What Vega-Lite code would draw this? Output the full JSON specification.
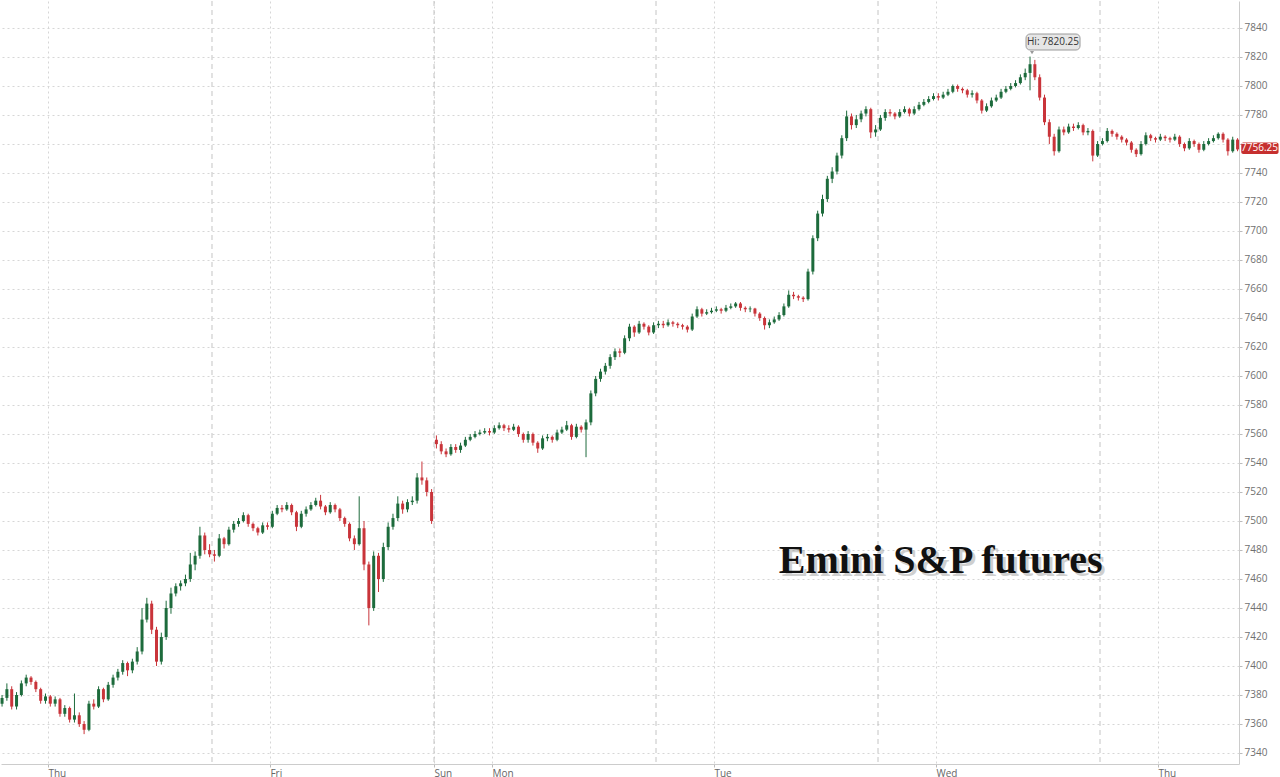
{
"$schema":"https://vega.github.io/schema/vega-lite/v6.json",
"width":1238,"height":763,"padding":0,
"background":"#ffffff",
"config":{"view":{"stroke":null},"axis":{"labelOverlap":false}},
"datasets":{
"sessions":[{"t":23},{"t":46},{"t":69},{"t":92},{"t":115}],
"bars":[
{"t":1.25,"o":7374,"hi":7380,"lo":7372,"c":7378},
{"t":1.75,"o":7378,"hi":7388,"lo":7376,"c":7384},
{"t":2.25,"o":7384,"hi":7386,"lo":7370,"c":7372},
{"t":2.75,"o":7372,"hi":7382,"lo":7370,"c":7380},
{"t":3.25,"o":7380,"hi":7390,"lo":7379,"c":7388},
{"t":3.75,"o":7388,"hi":7394,"lo":7386,"c":7392},
{"t":4.25,"o":7392,"hi":7393,"lo":7387,"c":7389},
{"t":4.75,"o":7389,"hi":7390,"lo":7382,"c":7384},
{"t":5.25,"o":7384,"hi":7385,"lo":7374,"c":7376},
{"t":5.75,"o":7376,"hi":7381,"lo":7374,"c":7379},
{"t":6.25,"o":7379,"hi":7380,"lo":7372,"c":7374},
{"t":6.75,"o":7374,"hi":7379,"lo":7372,"c":7377},
{"t":7.25,"o":7377,"hi":7378,"lo":7365,"c":7367},
{"t":7.75,"o":7367,"hi":7373,"lo":7365,"c":7371},
{"t":8.25,"o":7371,"hi":7372,"lo":7361,"c":7363},
{"t":8.75,"o":7363,"hi":7381,"lo":7361,"c":7366},
{"t":9.25,"o":7366,"hi":7368,"lo":7358,"c":7360},
{"t":9.75,"o":7360,"hi":7362,"lo":7353,"c":7356},
{"t":10.25,"o":7356,"hi":7376,"lo":7355,"c":7374},
{"t":10.75,"o":7374,"hi":7377,"lo":7370,"c":7372},
{"t":11.25,"o":7372,"hi":7386,"lo":7371,"c":7384},
{"t":11.75,"o":7384,"hi":7385,"lo":7375,"c":7377},
{"t":12.25,"o":7377,"hi":7389,"lo":7376,"c":7387},
{"t":12.75,"o":7387,"hi":7394,"lo":7385,"c":7392},
{"t":13.25,"o":7392,"hi":7398,"lo":7390,"c":7396},
{"t":13.75,"o":7396,"hi":7404,"lo":7394,"c":7402},
{"t":14.25,"o":7402,"hi":7403,"lo":7393,"c":7397},
{"t":14.75,"o":7397,"hi":7405,"lo":7395,"c":7403},
{"t":15.25,"o":7403,"hi":7413,"lo":7401,"c":7410},
{"t":15.75,"o":7410,"hi":7440,"lo":7408,"c":7432},
{"t":16.25,"o":7432,"hi":7447,"lo":7430,"c":7443},
{"t":16.75,"o":7443,"hi":7445,"lo":7422,"c":7425},
{"t":17.25,"o":7425,"hi":7427,"lo":7400,"c":7403},
{"t":17.75,"o":7403,"hi":7423,"lo":7401,"c":7420},
{"t":18.25,"o":7420,"hi":7445,"lo":7418,"c":7440},
{"t":18.75,"o":7440,"hi":7454,"lo":7436,"c":7450},
{"t":19.25,"o":7450,"hi":7457,"lo":7448,"c":7455},
{"t":19.75,"o":7455,"hi":7459,"lo":7452,"c":7457},
{"t":20.25,"o":7457,"hi":7463,"lo":7455,"c":7460},
{"t":20.75,"o":7460,"hi":7478,"lo":7458,"c":7470},
{"t":21.25,"o":7470,"hi":7479,"lo":7466,"c":7476},
{"t":21.75,"o":7476,"hi":7496,"lo":7474,"c":7490},
{"t":22.25,"o":7490,"hi":7492,"lo":7477,"c":7480},
{"t":22.75,"o":7480,"hi":7484,"lo":7475,"c":7477},
{"t":23.25,"o":7477,"hi":7480,"lo":7472,"c":7476},
{"t":23.75,"o":7476,"hi":7491,"lo":7475,"c":7488},
{"t":24.25,"o":7488,"hi":7489,"lo":7481,"c":7484},
{"t":24.75,"o":7484,"hi":7496,"lo":7483,"c":7494},
{"t":25.25,"o":7494,"hi":7500,"lo":7492,"c":7498},
{"t":25.75,"o":7498,"hi":7502,"lo":7496,"c":7500},
{"t":26.25,"o":7500,"hi":7506,"lo":7499,"c":7504},
{"t":26.75,"o":7504,"hi":7505,"lo":7496,"c":7498},
{"t":27.25,"o":7498,"hi":7499,"lo":7493,"c":7495},
{"t":27.75,"o":7495,"hi":7496,"lo":7490,"c":7492},
{"t":28.25,"o":7492,"hi":7499,"lo":7491,"c":7497},
{"t":28.75,"o":7497,"hi":7499,"lo":7494,"c":7496},
{"t":29.25,"o":7496,"hi":7507,"lo":7495,"c":7505},
{"t":29.75,"o":7505,"hi":7511,"lo":7504,"c":7509},
{"t":30.25,"o":7509,"hi":7511,"lo":7506,"c":7508},
{"t":30.75,"o":7508,"hi":7513,"lo":7507,"c":7511},
{"t":31.25,"o":7511,"hi":7512,"lo":7504,"c":7506},
{"t":31.75,"o":7506,"hi":7507,"lo":7493,"c":7496},
{"t":32.25,"o":7496,"hi":7507,"lo":7495,"c":7505},
{"t":32.75,"o":7505,"hi":7510,"lo":7503,"c":7508},
{"t":33.25,"o":7508,"hi":7513,"lo":7507,"c":7511},
{"t":33.75,"o":7511,"hi":7516,"lo":7510,"c":7514},
{"t":34.25,"o":7514,"hi":7518,"lo":7508,"c":7510},
{"t":34.75,"o":7510,"hi":7511,"lo":7504,"c":7506},
{"t":35.25,"o":7506,"hi":7513,"lo":7505,"c":7511},
{"t":35.75,"o":7511,"hi":7512,"lo":7506,"c":7508},
{"t":36.25,"o":7508,"hi":7509,"lo":7500,"c":7502},
{"t":36.75,"o":7502,"hi":7503,"lo":7496,"c":7498},
{"t":37.25,"o":7498,"hi":7499,"lo":7486,"c":7488},
{"t":37.75,"o":7488,"hi":7490,"lo":7480,"c":7484},
{"t":38.25,"o":7484,"hi":7517,"lo":7483,"c":7495},
{"t":38.75,"o":7495,"hi":7500,"lo":7466,"c":7470},
{"t":39.25,"o":7470,"hi":7472,"lo":7428,"c":7440},
{"t":39.75,"o":7440,"hi":7479,"lo":7438,"c":7476},
{"t":40.25,"o":7476,"hi":7478,"lo":7451,"c":7460},
{"t":40.75,"o":7460,"hi":7485,"lo":7458,"c":7482},
{"t":41.25,"o":7482,"hi":7499,"lo":7480,"c":7496},
{"t":41.75,"o":7496,"hi":7505,"lo":7494,"c":7502},
{"t":42.25,"o":7502,"hi":7517,"lo":7500,"c":7512},
{"t":42.75,"o":7512,"hi":7514,"lo":7505,"c":7508},
{"t":43.25,"o":7508,"hi":7515,"lo":7506,"c":7513},
{"t":43.75,"o":7513,"hi":7517,"lo":7511,"c":7514},
{"t":44.25,"o":7514,"hi":7533,"lo":7512,"c":7530},
{"t":44.75,"o":7530,"hi":7541,"lo":7525,"c":7528},
{"t":45.25,"o":7528,"hi":7530,"lo":7517,"c":7520},
{"t":45.75,"o":7520,"hi":7522,"lo":7498,"c":7500},
{"t":46.25,"o":7556,"hi":7559,"lo":7550,"c":7553},
{"t":46.75,"o":7553,"hi":7555,"lo":7546,"c":7548},
{"t":47.25,"o":7548,"hi":7550,"lo":7544,"c":7546},
{"t":47.75,"o":7546,"hi":7553,"lo":7545,"c":7551},
{"t":48.25,"o":7551,"hi":7553,"lo":7547,"c":7549},
{"t":48.75,"o":7549,"hi":7554,"lo":7547,"c":7552},
{"t":49.25,"o":7552,"hi":7558,"lo":7551,"c":7556},
{"t":49.75,"o":7556,"hi":7560,"lo":7555,"c":7558},
{"t":50.25,"o":7558,"hi":7562,"lo":7557,"c":7560},
{"t":50.75,"o":7560,"hi":7563,"lo":7559,"c":7561},
{"t":51.25,"o":7561,"hi":7564,"lo":7560,"c":7562},
{"t":51.75,"o":7562,"hi":7564,"lo":7559,"c":7561},
{"t":52.25,"o":7561,"hi":7566,"lo":7560,"c":7564},
{"t":52.75,"o":7564,"hi":7568,"lo":7563,"c":7566},
{"t":53.25,"o":7566,"hi":7567,"lo":7562,"c":7564},
{"t":53.75,"o":7564,"hi":7566,"lo":7561,"c":7563},
{"t":54.25,"o":7563,"hi":7567,"lo":7562,"c":7565},
{"t":54.75,"o":7565,"hi":7566,"lo":7558,"c":7560},
{"t":55.25,"o":7560,"hi":7561,"lo":7554,"c":7556},
{"t":55.75,"o":7556,"hi":7562,"lo":7554,"c":7560},
{"t":56.25,"o":7560,"hi":7561,"lo":7552,"c":7554},
{"t":56.75,"o":7554,"hi":7555,"lo":7547,"c":7550},
{"t":57.25,"o":7550,"hi":7559,"lo":7549,"c":7557},
{"t":57.75,"o":7557,"hi":7560,"lo":7555,"c":7558},
{"t":58.25,"o":7558,"hi":7559,"lo":7554,"c":7556},
{"t":58.75,"o":7556,"hi":7563,"lo":7555,"c":7561},
{"t":59.25,"o":7561,"hi":7565,"lo":7560,"c":7563},
{"t":59.75,"o":7563,"hi":7569,"lo":7562,"c":7566},
{"t":60.25,"o":7566,"hi":7567,"lo":7556,"c":7558},
{"t":60.75,"o":7558,"hi":7567,"lo":7557,"c":7565},
{"t":61.25,"o":7565,"hi":7566,"lo":7561,"c":7563},
{"t":61.75,"o":7563,"hi":7570,"lo":7544,"c":7568},
{"t":62.25,"o":7568,"hi":7590,"lo":7566,"c":7588},
{"t":62.75,"o":7588,"hi":7600,"lo":7586,"c":7598},
{"t":63.25,"o":7598,"hi":7605,"lo":7596,"c":7603},
{"t":63.75,"o":7603,"hi":7609,"lo":7601,"c":7607},
{"t":64.25,"o":7607,"hi":7615,"lo":7605,"c":7613},
{"t":64.75,"o":7613,"hi":7619,"lo":7611,"c":7617},
{"t":65.25,"o":7617,"hi":7619,"lo":7613,"c":7616},
{"t":65.75,"o":7616,"hi":7628,"lo":7615,"c":7626},
{"t":66.25,"o":7626,"hi":7636,"lo":7624,"c":7634},
{"t":66.75,"o":7634,"hi":7635,"lo":7627,"c":7630},
{"t":67.25,"o":7630,"hi":7638,"lo":7629,"c":7636},
{"t":67.75,"o":7636,"hi":7637,"lo":7632,"c":7634},
{"t":68.25,"o":7634,"hi":7635,"lo":7628,"c":7630},
{"t":68.75,"o":7630,"hi":7637,"lo":7629,"c":7635},
{"t":69.25,"o":7635,"hi":7638,"lo":7633,"c":7636},
{"t":69.75,"o":7636,"hi":7638,"lo":7633,"c":7635},
{"t":70.25,"o":7635,"hi":7639,"lo":7634,"c":7637},
{"t":70.75,"o":7637,"hi":7638,"lo":7634,"c":7636},
{"t":71.25,"o":7636,"hi":7637,"lo":7633,"c":7635},
{"t":71.75,"o":7635,"hi":7636,"lo":7632,"c":7634},
{"t":72.25,"o":7634,"hi":7635,"lo":7630,"c":7632},
{"t":72.75,"o":7632,"hi":7643,"lo":7631,"c":7641},
{"t":73.25,"o":7641,"hi":7648,"lo":7640,"c":7646},
{"t":73.75,"o":7646,"hi":7647,"lo":7641,"c":7643},
{"t":74.25,"o":7643,"hi":7646,"lo":7642,"c":7644},
{"t":74.75,"o":7644,"hi":7647,"lo":7643,"c":7645},
{"t":75.25,"o":7645,"hi":7648,"lo":7644,"c":7646},
{"t":75.75,"o":7646,"hi":7647,"lo":7643,"c":7645},
{"t":76.25,"o":7645,"hi":7649,"lo":7644,"c":7647},
{"t":76.75,"o":7647,"hi":7650,"lo":7646,"c":7648},
{"t":77.25,"o":7648,"hi":7651,"lo":7647,"c":7650},
{"t":77.75,"o":7650,"hi":7651,"lo":7645,"c":7647},
{"t":78.25,"o":7647,"hi":7648,"lo":7644,"c":7646},
{"t":78.75,"o":7646,"hi":7648,"lo":7644,"c":7646.5},
{"t":79.25,"o":7646.5,"hi":7647,"lo":7641,"c":7643},
{"t":79.75,"o":7643,"hi":7644,"lo":7638,"c":7640},
{"t":80.25,"o":7640,"hi":7641,"lo":7632,"c":7635},
{"t":80.75,"o":7635,"hi":7639,"lo":7633,"c":7637},
{"t":81.25,"o":7637,"hi":7641,"lo":7636,"c":7639},
{"t":81.75,"o":7639,"hi":7644,"lo":7638,"c":7642},
{"t":82.25,"o":7642,"hi":7650,"lo":7641,"c":7648},
{"t":82.75,"o":7648,"hi":7659,"lo":7647,"c":7656},
{"t":83.25,"o":7656,"hi":7658,"lo":7653,"c":7655},
{"t":83.75,"o":7655,"hi":7656,"lo":7652,"c":7654},
{"t":84.25,"o":7654,"hi":7655,"lo":7651,"c":7653},
{"t":84.75,"o":7653,"hi":7674,"lo":7652,"c":7672},
{"t":85.25,"o":7672,"hi":7697,"lo":7670,"c":7695},
{"t":85.75,"o":7695,"hi":7714,"lo":7693,"c":7712},
{"t":86.25,"o":7712,"hi":7725,"lo":7710,"c":7722},
{"t":86.75,"o":7722,"hi":7738,"lo":7720,"c":7736},
{"t":87.25,"o":7736,"hi":7744,"lo":7733,"c":7741},
{"t":87.75,"o":7741,"hi":7754,"lo":7739,"c":7752},
{"t":88.25,"o":7752,"hi":7766,"lo":7750,"c":7764},
{"t":88.75,"o":7764,"hi":7783,"lo":7762,"c":7779},
{"t":89.25,"o":7779,"hi":7781,"lo":7770,"c":7773},
{"t":89.75,"o":7773,"hi":7780,"lo":7771,"c":7777},
{"t":90.25,"o":7777,"hi":7783,"lo":7775,"c":7781},
{"t":90.75,"o":7781,"hi":7786,"lo":7779,"c":7784},
{"t":91.25,"o":7784,"hi":7785,"lo":7764,"c":7768},
{"t":91.75,"o":7768,"hi":7773,"lo":7765,"c":7770},
{"t":92.25,"o":7770,"hi":7780,"lo":7769,"c":7778},
{"t":92.75,"o":7778,"hi":7784,"lo":7776,"c":7782},
{"t":93.25,"o":7782,"hi":7784,"lo":7779,"c":7781},
{"t":93.75,"o":7781,"hi":7782,"lo":7777,"c":7779},
{"t":94.25,"o":7779,"hi":7784,"lo":7778,"c":7782},
{"t":94.75,"o":7782,"hi":7786,"lo":7781,"c":7784},
{"t":95.25,"o":7784,"hi":7785,"lo":7779,"c":7781},
{"t":95.75,"o":7781,"hi":7786,"lo":7780,"c":7784},
{"t":96.25,"o":7784,"hi":7789,"lo":7783,"c":7787},
{"t":96.75,"o":7787,"hi":7791,"lo":7786,"c":7789},
{"t":97.25,"o":7789,"hi":7793,"lo":7788,"c":7791},
{"t":97.75,"o":7791,"hi":7795,"lo":7790,"c":7793},
{"t":98.25,"o":7793,"hi":7795,"lo":7790,"c":7792},
{"t":98.75,"o":7792,"hi":7796,"lo":7791,"c":7794},
{"t":99.25,"o":7794,"hi":7798,"lo":7793,"c":7796},
{"t":99.75,"o":7796,"hi":7801,"lo":7795,"c":7800},
{"t":100.25,"o":7800,"hi":7801,"lo":7796,"c":7798},
{"t":100.75,"o":7798,"hi":7799,"lo":7795,"c":7797},
{"t":101.25,"o":7797,"hi":7798,"lo":7792,"c":7794},
{"t":101.75,"o":7794,"hi":7797,"lo":7792,"c":7795},
{"t":102.25,"o":7795,"hi":7796,"lo":7788,"c":7790},
{"t":102.75,"o":7790,"hi":7791,"lo":7781,"c":7783},
{"t":103.25,"o":7783,"hi":7788,"lo":7782,"c":7786},
{"t":103.75,"o":7786,"hi":7792,"lo":7785,"c":7790},
{"t":104.25,"o":7790,"hi":7794,"lo":7789,"c":7792},
{"t":104.75,"o":7792,"hi":7798,"lo":7791,"c":7796},
{"t":105.25,"o":7796,"hi":7800,"lo":7795,"c":7798},
{"t":105.75,"o":7798,"hi":7802,"lo":7797,"c":7800},
{"t":106.25,"o":7800,"hi":7804,"lo":7799,"c":7802},
{"t":106.75,"o":7802,"hi":7808,"lo":7801,"c":7806},
{"t":107.25,"o":7806,"hi":7812,"lo":7804,"c":7809},
{"t":107.75,"o":7809,"hi":7820.25,"lo":7797,"c":7815},
{"t":108.25,"o":7815,"hi":7818,"lo":7804,"c":7806},
{"t":108.75,"o":7806,"hi":7808,"lo":7790,"c":7792},
{"t":109.25,"o":7792,"hi":7794,"lo":7773,"c":7775},
{"t":109.75,"o":7775,"hi":7777,"lo":7760,"c":7765},
{"t":110.25,"o":7765,"hi":7767,"lo":7752,"c":7755},
{"t":110.75,"o":7755,"hi":7772,"lo":7754,"c":7770},
{"t":111.25,"o":7770,"hi":7772,"lo":7766,"c":7768},
{"t":111.75,"o":7768,"hi":7774,"lo":7767,"c":7772},
{"t":112.25,"o":7772,"hi":7774,"lo":7769,"c":7771},
{"t":112.75,"o":7771,"hi":7775,"lo":7770,"c":7773},
{"t":113.25,"o":7773,"hi":7774,"lo":7766,"c":7768},
{"t":113.75,"o":7768,"hi":7771,"lo":7766,"c":7769},
{"t":114.25,"o":7769,"hi":7770,"lo":7748,"c":7752},
{"t":114.75,"o":7752,"hi":7762,"lo":7751,"c":7760},
{"t":115.25,"o":7760,"hi":7764,"lo":7759,"c":7762},
{"t":115.75,"o":7762,"hi":7771,"lo":7761,"c":7769},
{"t":116.25,"o":7769,"hi":7770,"lo":7765,"c":7767},
{"t":116.75,"o":7767,"hi":7768,"lo":7763,"c":7765},
{"t":117.25,"o":7765,"hi":7766,"lo":7761,"c":7763},
{"t":117.75,"o":7763,"hi":7764,"lo":7759,"c":7761},
{"t":118.25,"o":7761,"hi":7762,"lo":7754,"c":7756},
{"t":118.75,"o":7756,"hi":7757,"lo":7751,"c":7753},
{"t":119.25,"o":7753,"hi":7762,"lo":7752,"c":7760},
{"t":119.75,"o":7760,"hi":7768,"lo":7759,"c":7766},
{"t":120.25,"o":7766,"hi":7767,"lo":7762,"c":7764},
{"t":120.75,"o":7764,"hi":7765,"lo":7761,"c":7763},
{"t":121.25,"o":7763,"hi":7767,"lo":7762,"c":7765},
{"t":121.75,"o":7765,"hi":7766,"lo":7762,"c":7764},
{"t":122.25,"o":7764,"hi":7765,"lo":7761,"c":7763},
{"t":122.75,"o":7763,"hi":7767,"lo":7762,"c":7765},
{"t":123.25,"o":7765,"hi":7766,"lo":7758,"c":7760},
{"t":123.75,"o":7760,"hi":7761,"lo":7755,"c":7757},
{"t":124.25,"o":7757,"hi":7764,"lo":7756,"c":7762},
{"t":124.75,"o":7762,"hi":7763,"lo":7758,"c":7760},
{"t":125.25,"o":7760,"hi":7761,"lo":7754,"c":7756},
{"t":125.75,"o":7756,"hi":7762,"lo":7755,"c":7760},
{"t":126.25,"o":7760,"hi":7764,"lo":7759,"c":7762},
{"t":126.75,"o":7762,"hi":7766,"lo":7761,"c":7764},
{"t":127.25,"o":7764,"hi":7768,"lo":7763,"c":7767},
{"t":127.75,"o":7767,"hi":7768,"lo":7761,"c":7763},
{"t":128.25,"o":7763,"hi":7764,"lo":7752,"c":7755},
{"t":128.75,"o":7755,"hi":7765,"lo":7754,"c":7763},
{"t":129.25,"o":7763,"hi":7764,"lo":7755,"c":7756.25}
]},
"data":{"name":"bars"},
"layer":[
{"data":{"name":"sessions"},
 "mark":{"type":"rule","color":"#c4c4c4","strokeDash":[5,4],"strokeWidth":1},
 "encoding":{"x":{"field":"t","type":"quantitative","axis":{"title":null}}}},
{"mark":{"type":"rule","strokeWidth":1},
 "encoding":{
  "x":{"field":"t","type":"quantitative","scale":{"domain":[1.14,129.4],"nice":false,"zero":false,"padding":0},
   "axis":{"title":null,"values":[6,29,46,52,75,98,121],"tickCount":40,
    "labelExpr":"datum.value==6||datum.value==121?'Thu':datum.value==29?'Fri':datum.value==46?'Sun':datum.value==52?'Mon':datum.value==75?'Tue':'Wed'",
    "labelAlign":"left","labelPadding":1,"tickSize":3,"tickColor":"#bbbbbb","domainColor":"#cccccc",
    "labelColor":"#666666","labelFont":"Open Sans","labelFontSize":10,"labelFlush":false,"labelOverlap":false,
    "grid":true,"gridDash":[2,3],"gridColor":"#d6d6d6"}},
  "y":{"field":"lo","type":"quantitative","scale":{"domain":[7332.4,7858.6],"nice":false,"zero":false,"padding":0},
   "axis":{"title":null,"orient":"right","format":"d","tickCount":40,
    "values":[7340,7360,7380,7400,7420,7440,7460,7480,7500,7520,7540,7560,7580,7600,7620,7640,7660,7680,7700,7720,7740,7760,7780,7800,7820,7840],
    "labelExpr":"datum.value == 7760 ? '' : datum.label",
    "tickSize":3,"labelPadding":2,"tickColor":"#bbbbbb","domainColor":"#cccccc","labelOverlap":false,
    "labelColor":"#707070","labelFont":"Open Sans","labelFontSize":10,
    "grid":true,"gridDash":[2,3],"gridColor":"#d6d6d6"}},
  "y2":{"field":"hi"},
  "color":{"condition":{"test":"datum.c >= datum.o","value":"#1d6b3c"},"value":"#c9343a"}}},
{"mark":{"type":"bar","width":3},
 "encoding":{
  "x":{"field":"t","type":"quantitative"},
  "y":{"field":"o","type":"quantitative"},
  "y2":{"field":"c"},
  "color":{"condition":{"test":"datum.c >= datum.o","value":"#1d6b3c"},"value":"#c9343a"}}},
{"transform":[{"joinaggregate":[{"op":"max","field":"hi","as":"maxhi"}]},{"filter":"datum.hi == datum.maxhi"},{"calculate":"'Hi: ' + format(datum.hi, '.2f')","as":"lbl"}],
 "layer":[
  {"mark":{"type":"point","shape":"triangle-down","filled":true,"color":"#9a9a9a","size":16,"yOffset":-4,"xOffset":2,"opacity":1},
   "encoding":{"x":{"field":"t","type":"quantitative"},"y":{"field":"hi","type":"quantitative"}}},
  {"mark":{"type":"rect","fill":"#e6e6e6","stroke":"#9a9a9a","strokeWidth":1,"cornerRadius":4,"xOffset":-4,"x2Offset":50,"yOffset":-22.6,"y2Offset":-6.6},
   "encoding":{"x":{"field":"t","type":"quantitative"},"x2":{"field":"t"},"y":{"field":"hi","type":"quantitative"},"y2":{"field":"hi"}}},
  {"mark":{"type":"text","font":"Open Sans","fontSize":10,"color":"#333333","dx":23,"dy":-14.6,"baseline":"middle","align":"center"},
   "encoding":{"x":{"field":"t","type":"quantitative"},"y":{"field":"hi","type":"quantitative"},"text":{"field":"lbl"}}}
 ]},
{"transform":[{"joinaggregate":[{"op":"max","field":"t","as":"maxt"}]},{"filter":"datum.t == datum.maxt"}],
 "layer":[
  {"mark":{"type":"rect","fill":"#c6302f","cornerRadius":2,"xOffset":3.7,"x2Offset":41,"yOffset":-7,"y2Offset":4.5},
   "encoding":{"x":{"field":"t","type":"quantitative"},"x2":{"field":"t"},"y":{"field":"c","type":"quantitative"},"y2":{"field":"c"}}},
  {"mark":{"type":"text","font":"Open Sans","fontSize":10,"color":"#ffffff","dx":22,"dy":-1.2,"baseline":"middle","align":"center"},
   "encoding":{"x":{"field":"t","type":"quantitative"},"y":{"field":"c","type":"quantitative"},"text":{"field":"c","format":".2f"}}}
 ]},
{"data":{"values":[{"label":"Emini S&P futures"}]},
 "layer":[
  {"mark":{"type":"text","font":"Liberation Serif","fontWeight":"bold","fontSize":40,"color":"#888888","opacity":0.4,"dx":3,"dy":3,"align":"center","baseline":"alphabetic"},
   "encoding":{"x":{"datum":98.5,"type":"quantitative"},"y":{"datum":7464.1,"type":"quantitative"},"text":{"field":"label"}}},
  {"mark":{"type":"text","font":"Liberation Serif","fontWeight":"bold","fontSize":40,"color":"#111111","align":"center","baseline":"alphabetic"},
   "encoding":{"x":{"datum":98.5,"type":"quantitative"},"y":{"datum":7464.1,"type":"quantitative"},"text":{"field":"label"}}}
 ]}
]
}
